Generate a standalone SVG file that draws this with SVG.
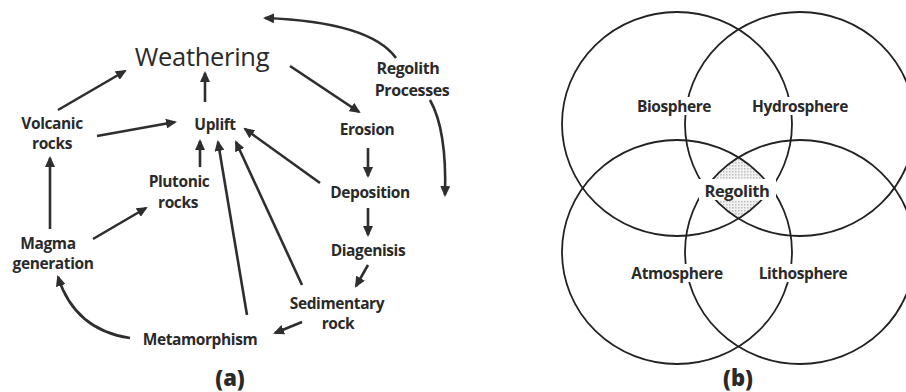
<svg xmlns="http://www.w3.org/2000/svg" width="906" height="392" viewBox="0 0 906 392">
<style>
.lbl{font-family:"Open Sans","Liberation Sans",sans-serif;font-weight:700;font-size:15.5px;letter-spacing:-0.4px;fill:#2a2a2a;text-anchor:middle;dominant-baseline:central}
.big{font-family:"Open Sans","Liberation Sans",sans-serif;font-weight:500;font-size:25.5px;letter-spacing:-0.3px;fill:#2a2a2a;text-anchor:middle;dominant-baseline:central}
.cap{font-family:"Open Sans","Liberation Sans",sans-serif;font-weight:800;font-size:22px;fill:#2a2a2a;text-anchor:middle;dominant-baseline:central}
.arr{fill:none;stroke:#2e2e2e;stroke-width:2.6;marker-end:url(#ah)}
.ring{fill:none;stroke:#222;stroke-width:1.8}
.bg{fill:#fff}
</style>
<defs>
<marker id="ah" markerUnits="userSpaceOnUse" markerWidth="12" markerHeight="10" viewBox="0 0 12 10" refX="9" refY="5" orient="auto">
<path d="M0,0 L11,5 L0,10 z" fill="#2e2e2e"/>
</marker>
<pattern id="dots" width="3" height="3" patternUnits="userSpaceOnUse">
<rect width="3" height="3" fill="#f2f2f2"/>
<rect width="1.5" height="1.5" fill="#bdbdbd"/>
</pattern>
<clipPath id="cTL"><ellipse cx="677" cy="124" rx="115" ry="112"/></clipPath>
<clipPath id="cTR"><ellipse cx="800" cy="124" rx="115" ry="112"/></clipPath>
<clipPath id="cBL"><ellipse cx="677" cy="252" rx="115" ry="112"/></clipPath>
</defs>

<g id="connectors">
<path class="arr" d="M396,58 Q370,22 265,18"/>
<path class="arr" d="M430,100 Q447,130 445,195"/>
<path class="arr" d="M130,338 Q75,330 58,277"/>
<path class="arr" d="M58,110 L125,71"/>
<path class="arr" d="M205,102 L205,73"/>
<path class="arr" d="M97,136 L175,122"/>
<path class="arr" d="M290,66 L359,112"/>
<path class="arr" d="M368,148 L368,176"/>
<path class="arr" d="M200,167 L200,141"/>
<path class="arr" d="M247,315 L218,142"/>
<path class="arr" d="M302,285 L236,142"/>
<path class="arr" d="M320,183 L245,129"/>
<path class="arr" d="M50,229 L50,158"/>
<path class="arr" d="M93,239 L146,208"/>
<path class="arr" d="M368,208 L368,235"/>
<path class="arr" d="M368,265 L356,286"/>
<path class="arr" d="M302,322 L275,333"/>
</g>

<g id="weathering"><text class="big" x="202" y="56">Weathering</text></g>
<g id="regolith-processes"><text class="lbl" x="408" y="68" style="font-size:16px">Regolith</text><text class="lbl" x="412" y="90" style="font-size:16px">Processes</text></g>
<g id="volcanic"><text class="lbl" x="52" y="123">Volcanic</text><text class="lbl" x="52" y="143">rocks</text></g>
<g id="uplift"><text class="lbl" x="215" y="124">Uplift</text></g>
<g id="erosion"><text class="lbl" x="367" y="129">Erosion</text></g>
<g id="plutonic"><text class="lbl" x="179" y="181">Plutonic</text><text class="lbl" x="178" y="202">rocks</text></g>
<g id="deposition"><text class="lbl" x="370" y="192">Deposition</text></g>
<g id="magma"><text class="lbl" x="48" y="243">Magma</text><text class="lbl" x="53" y="263">generation</text></g>
<g id="diagenisis"><text class="lbl" x="368" y="250">Diagenisis</text></g>
<g id="sedimentary"><text class="lbl" x="337" y="303">Sedimentary</text><text class="lbl" x="338" y="323">rock</text></g>
<g id="metamorphism"><text class="lbl" x="200" y="339">Metamorphism</text></g>
<g id="label-a"><text class="cap" x="230" y="377">(a)</text></g>

<g id="venn">
<g clip-path="url(#cTL)"><g clip-path="url(#cTR)"><g clip-path="url(#cBL)">
<ellipse cx="800" cy="252" rx="115" ry="112" fill="url(#dots)"/>
</g></g></g>
<ellipse class="ring" cx="677" cy="124" rx="115" ry="112"/>
<ellipse class="ring" cx="800" cy="124" rx="115" ry="112"/>
<ellipse class="ring" cx="677" cy="252" rx="115" ry="112"/>
<ellipse class="ring" cx="800" cy="252" rx="115" ry="112"/>
</g>
<g id="biosphere"><rect class="bg" x="636" y="97" width="76" height="18"/><text class="lbl" x="674" y="106">Biosphere</text></g>
<g id="hydrosphere"><rect class="bg" x="751" y="97" width="98" height="18"/><text class="lbl" x="800" y="106">Hydrosphere</text></g>
<g id="regolith"><rect class="bg" x="699" y="179" width="77" height="21"/><text class="lbl" x="737" y="190" style="font-size:16.5px">Regolith</text></g>
<g id="atmosphere"><rect class="bg" x="631" y="264" width="92" height="18"/><text class="lbl" x="677" y="273">Atmosphere</text></g>
<g id="lithosphere"><rect class="bg" x="760" y="264" width="87" height="18"/><text class="lbl" x="803" y="273">Lithosphere</text></g>
<g id="label-b"><text class="cap" x="738" y="377">(b)</text></g>
</svg>
